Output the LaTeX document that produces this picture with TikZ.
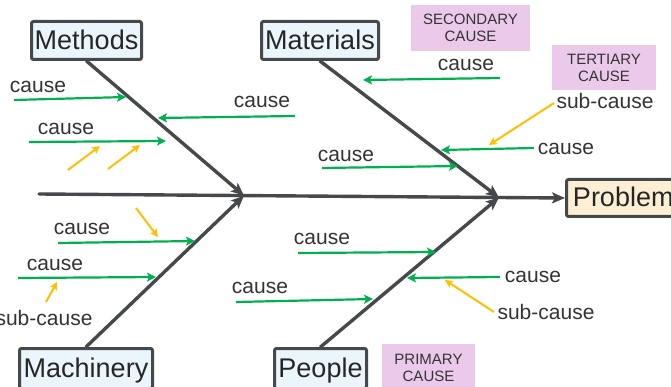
\documentclass[tikz,border=0pt]{standalone}
\usepackage{fontspec}
\setmainfont{Liberation Sans}
\usetikzlibrary{arrows.meta}
\definecolor{bonegray}{HTML}{45494C}
\definecolor{boxblue}{HTML}{EAF5FC}
\definecolor{boxorange}{HTML}{FDEFD3}
\definecolor{tagpurple}{HTML}{EBC9EA}
\definecolor{causegreen}{HTML}{00B050}
\definecolor{subyellow}{HTML}{FFC000}
\definecolor{txt}{HTML}{333333}
\begin{document}
\begin{tikzpicture}[x=1pt,y=-1pt,
  catbox/.style={draw=bonegray, line width=3pt, fill=boxblue, rounded corners=2pt,
    inner sep=0pt, font=\fontsize{27}{30}\selectfont, text=black!85,
    text height=19pt, text depth=1.5pt, minimum height=38pt},
  tagbox/.style={fill=tagpurple, inner sep=0pt, align=center,
    font=\fontsize{15}{17}\selectfont, text=txt},
  lbl/.style={font=\fontsize{21}{24}\selectfont, text=txt, inner sep=0pt},
  bone/.style={draw=bonegray, line width=3.4pt, line cap=round,
    -{Stealth[length=13pt,width=11pt,inset=3pt]}},
  causearrow/.style={draw=causegreen, line width=2.2pt,
    -{Stealth[length=9pt,width=9pt,inset=2pt]}},
  subarrow/.style={draw=subyellow, line width=2pt,
    -{Stealth[length=8pt,width=8pt,inset=2pt]}}]
\useasboundingbox (0,0) rectangle (671,387);
\clip (0,0) rectangle (671,387);

% category boxes
\node[catbox, minimum width=110pt] (methods) at (86.5,40.5) {Methods};
\node[catbox, minimum width=117pt] (materials) at (320,40.5) {Materials};
\node[catbox, minimum width=133pt, minimum height=40pt] (machinery) at (86,368.5) {Machinery};
\node[catbox, minimum width=92pt, minimum height=40pt] (people) at (320.5,368.5) {People};
\node[catbox, fill=boxorange, minimum width=113.5pt, minimum height=37pt] (problem) at (623.25,198) {Problem};

% tag boxes
\node[tagbox, minimum width=119pt, minimum height=46pt] (secondary) at (470.5,28) {SECONDARY\\CAUSE};
\node[tagbox, minimum width=104pt, minimum height=45pt] (tertiary) at (604,67.5) {TERTIARY\\CAUSE};
\node[tagbox, minimum width=93pt, minimum height=48pt] (primary) at (428.5,368) {PRIMARY\\CAUSE};

% spine and bones
\coordinate (tail) at (39,194);
\coordinate (j1) at (244,195.6);
\coordinate (j2) at (499,197.5);
\draw[bone] (tail) -- (problem.west);
\draw[bone] (methods.south) -- (j1);
\draw[bone] (machinery.north) -- (j1);
\draw[bone] (materials.south) -- (j2);
\draw[bone] (people.north) -- (j2);

% cause arrows
\foreach \n/\ax/\ay/\bx/\by in {
  ga/14/100/126/97, gb/29/142/166/141, gc/295/116/158/118,
  gd/500/78/363/80, ge/322/168/458/166, gf/534/148/441/150,
  gg/58/243/195/241, gh/18/278/156/277, gi/298/253/436/252,
  gj/236/302/373/299, gk/500/277/407/278} {
  \coordinate (\n s) at (\ax,\ay);
  \coordinate (\n e) at (\bx,\by);
  \draw[causearrow] (\n s) -- (\n e);
}

% sub-cause arrows
\foreach \n/\ax/\ay/\bx/\by in {
  oa/68/170/100/146, ob/108/169/140/145, oc/554/103/489/145,
  od/136/208/158/237, oe/46/302/57/282, of/494/312/445/280} {
  \coordinate (\n s) at (\ax,\ay);
  \coordinate (\n e) at (\bx,\by);
  \draw[subarrow] (\n s) -- (\n e);
}

% labels
\node[lbl] (l1) at (38,87) {cause};
\node[lbl] (l2) at (66,129) {cause};
\node[lbl] (l3) at (262,102) {cause};
\node[lbl] (l4) at (466,65) {cause};
\node[lbl] (l5) at (346,156) {cause};
\node[lbl] (l6) at (566,149) {cause};
\node[lbl] (l7) at (605,101) {sub-cause};
\node[lbl] (l8) at (82,229) {cause};
\node[lbl] (l9) at (55,265) {cause};
\node[lbl] (l10) at (44,318) {sub-cause};
\node[lbl] (l11) at (322,239) {cause};
\node[lbl] (l12) at (260,288) {cause};
\node[lbl] (l13) at (533,277) {cause};
\node[lbl] (l14) at (546,312) {sub-cause};
\end{tikzpicture}
\end{document}
